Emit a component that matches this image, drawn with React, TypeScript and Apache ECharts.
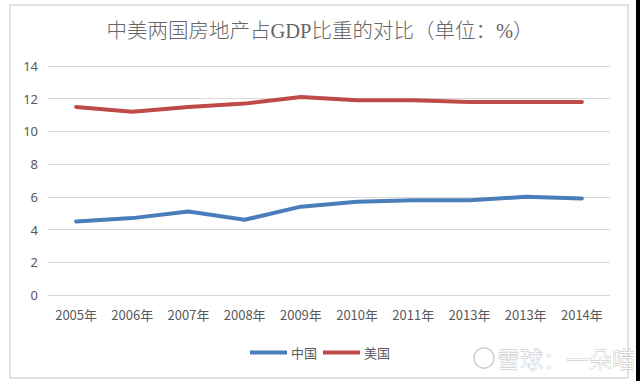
import React, { useEffect, useRef } from "react";
import * as echarts from "echarts";

const categories = ["2005年", "2006年", "2007年", "2008年", "2009年", "2010年", "2011年", "2013年", "2013年", "2014年"];
const chinaValues = [4.5, 4.7, 5.1, 4.6, 5.4, 5.7, 5.8, 5.8, 6.0, 5.9];
const usValues = [11.5, 11.2, 11.5, 11.7, 12.1, 11.9, 11.9, 11.8, 11.8, 11.8];
const seriesNames = ["中国", "美国"];
const titleText = "中美两国房地产占GDP比重的对比（单位：%）";
const watermarkText = "雪球：一朵喵";

export default function App() {
  const ref = useRef<HTMLDivElement>(null);
  useEffect(() => {
    if (!ref.current) return;
    const chart = echarts.init(ref.current, undefined, { renderer: "svg" });
    chart.setOption({
      animation: false,
      backgroundColor: "#ffffff",
      title: {
        text: titleText,
        left: "center",
        top: 16,
        textStyle: {
          color: "#666666",
          fontSize: 20.5,
          fontWeight: 300,
          fontFamily: "'Liberation Serif', 'DejaVu Serif', 'Noto Sans CJK SC', serif",
        },
      },
      grid: { left: 48, right: 30, top: 66, bottom: 86 },
      legend: {
        data: seriesNames,
        left: 245,
        top: 341,
        itemWidth: 37,
        itemHeight: 4,
        itemGap: 6,
        icon: "rect",
        textStyle: { color: "#595959", fontSize: 13, fontFamily: "'Noto Sans CJK SC', sans-serif", padding: [0, 0, 0, -1] },
      },
      xAxis: {
        type: "category",
        data: categories,
        boundaryGap: true,
        axisLine: { show: true, lineStyle: { color: "#d9d9d9", width: 1 } },
        axisTick: { show: false },
        axisLabel: {
          color: "#595959",
          fontSize: 13,
          margin: 13,
          interval: 0,
          fontFamily: "'Noto Sans CJK SC', sans-serif",
          formatter: (_v: string, i: number) => categories[i],
        },
      },
      yAxis: {
        type: "value",
        min: 0,
        max: 14,
        interval: 2,
        axisLine: { show: false },
        axisTick: { show: false },
        axisLabel: { color: "#595959", fontSize: 13, margin: 10, fontFamily: "'Noto Sans', sans-serif" },
        splitLine: { lineStyle: { color: "#d9d9d9", width: 1 } },
      },
      series: [
        {
          name: seriesNames[0],
          type: "line",
          data: chinaValues,
          symbol: "none",
          lineStyle: { color: "#4a7ebb", width: 4, cap: "round" },
          itemStyle: { color: "#4a7ebb" },
        },
        {
          name: seriesNames[1],
          type: "line",
          data: usValues,
          symbol: "none",
          lineStyle: { color: "#be4b48", width: 4, cap: "round" },
          itemStyle: { color: "#be4b48" },
        },
      ],
      graphic: [
        {
          type: "rect",
          shape: { x: 10, y: 5, width: 618, height: 373 },
          style: { fill: "none", stroke: "#d9d9d9", lineWidth: 1.5 },
          silent: true,
        },
        {
          type: "rect",
          shape: { x: 636, y: 0, width: 4, height: 381 },
          style: { fill: "#000000" },
          silent: true,
        },
        {
          type: "circle",
          shape: { cx: 484, cy: 358, r: 10 },
          style: { fill: "none", stroke: "#c4c4c4", lineWidth: 1.2 },
          silent: true,
        },
        {
          type: "text",
          x: 497,
          y: 358,
          style: {
            text: watermarkText,
            fontSize: 23,
            fontWeight: 300,
            fontFamily: "'Noto Sans CJK SC', sans-serif",
            fill: "#ffffff",
            stroke: "#c0c0c0",
            lineWidth: 0.8,
            verticalAlign: "middle",
            align: "left",
          },
          silent: true,
        },
      ],
    });
    return () => chart.dispose();
  }, []);
  return <div ref={ref} style={{ position: "fixed", left: 0, top: 0, width: 640, height: 381 }} />;
}
